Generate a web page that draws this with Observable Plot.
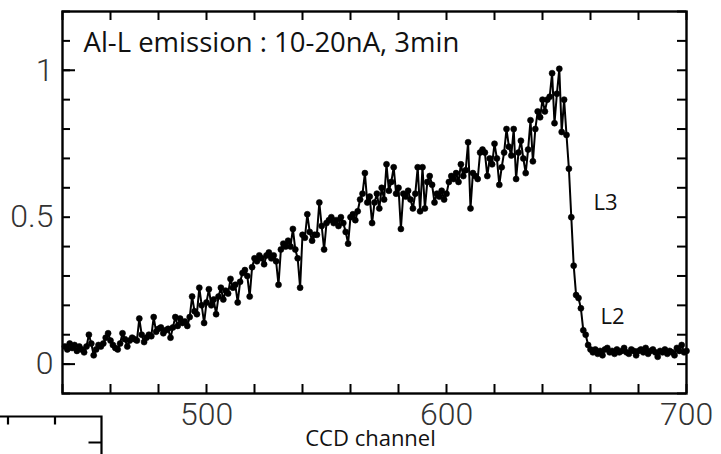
<!DOCTYPE html>
<html>
<head>
<meta charset="utf-8">
<script src="https://cdn.jsdelivr.net/npm/d3@7"></script>
<script src="https://cdn.jsdelivr.net/npm/@observablehq/plot@0.6"></script>
<style>
  html, body { margin: 0; padding: 0; background: #fff; }
  #chart svg { display: block; }
</style>
</head>
<body>
<div id="chart"></div>
<script>
// ---- data ----
const firstChannel = 441;
const intensity = [
  0.06, 0.05, 0.07, 0.055, 0.065, 0.045, 0.06, 0.05, 0.04, 0.06,
  0.10, 0.07, 0.03, 0.05, 0.065, 0.06, 0.07, 0.09, 0.105, 0.08,
  0.065, 0.055, 0.05, 0.07, 0.105, 0.085, 0.06, 0.08, 0.09, 0.085,
  0.08, 0.155, 0.10, 0.075, 0.09, 0.10, 0.095, 0.16, 0.11, 0.12,
  0.125, 0.105, 0.115, 0.12, 0.09, 0.125, 0.16, 0.13, 0.155, 0.14,
  0.145, 0.13, 0.16, 0.23, 0.18, 0.17, 0.26, 0.20, 0.14, 0.21,
  0.255, 0.20, 0.22, 0.17, 0.23, 0.26, 0.22, 0.25, 0.24, 0.29,
  0.26, 0.27, 0.21, 0.28, 0.31, 0.32, 0.30, 0.23, 0.33, 0.36,
  0.35, 0.37, 0.36, 0.34, 0.37, 0.38, 0.36, 0.37, 0.35, 0.27,
  0.39, 0.41, 0.40, 0.42, 0.40, 0.46, 0.39, 0.36, 0.26, 0.44,
  0.43, 0.51, 0.45, 0.42, 0.44, 0.44, 0.55, 0.47, 0.39, 0.48,
  0.49, 0.50, 0.48, 0.49, 0.47, 0.50, 0.48, 0.45, 0.41, 0.50,
  0.51, 0.49, 0.52, 0.56, 0.58, 0.65, 0.55, 0.57, 0.48, 0.55,
  0.58, 0.53, 0.60, 0.56, 0.68, 0.59, 0.62, 0.67, 0.58, 0.60,
  0.46, 0.58, 0.57, 0.59, 0.56, 0.53, 0.58, 0.67, 0.52, 0.67,
  0.53, 0.62, 0.64, 0.61, 0.55, 0.58, 0.57, 0.59, 0.56, 0.58,
  0.62, 0.64, 0.63, 0.65, 0.62, 0.68, 0.64, 0.66, 0.755, 0.53,
  0.65, 0.64, 0.63, 0.72, 0.73, 0.72, 0.64, 0.70, 0.68, 0.75,
  0.70, 0.61, 0.67, 0.72, 0.80, 0.74, 0.71, 0.80, 0.63, 0.72,
  0.76, 0.70, 0.65, 0.73, 0.83, 0.69, 0.80, 0.86, 0.84, 0.90,
  0.86, 0.90, 0.91, 0.99, 0.82, 0.92, 1.005, 0.79, 0.90, 0.78,
  0.665, 0.50, 0.335, 0.235, 0.225, 0.19, 0.115, 0.10, 0.065, 0.05,
  0.04, 0.05, 0.035, 0.045, 0.03, 0.05, 0.055, 0.04, 0.045, 0.035,
  0.05, 0.04, 0.045, 0.055, 0.04, 0.035, 0.05, 0.045, 0.03, 0.045,
  0.05, 0.04, 0.055, 0.035, 0.045, 0.05, 0.04, 0.025, 0.045, 0.04,
  0.05, 0.035, 0.045, 0.04, 0.03, 0.055, 0.045, 0.065, 0.04, 0.045
];
const xDomain = [440, 700];
const yDomain = [-0.1, 1.2];
const xTicks = [440, 460, 480, 500, 520, 540, 560, 580, 600, 620, 640, 660, 680, 700];
const xTickLabels = [500, 600, 700];
const yMinorTicks = [-0.1, 0, 0.1, 0.2, 0.3, 0.4, 0.5, 0.6, 0.7, 0.8, 0.9, 1.0, 1.1, 1.2];
const yMajorTicks = [0, 1];
const yTickLabels = [0, 0.5, 1];
const title = "Al-L emission : 10-20nA, 3min";
const xLabel = "CCD channel";
const annotations = [
  {label: "L3", x: 661.3, y: 0.548},
  {label: "L2", x: 664.2, y: 0.16}
];

const data = intensity.map((v, i) => ({channel: firstChannel + i, value: v}));

// ---- layout ----
const W = 721, H = 454;
const mL = 62, mR = 35, mT = 11, mB = 61;
const innerW = W - mL - mR, innerH = H - mT - mB;
const tickFont = "Roboto, 'Liberation Sans', Arial, sans-serif";
const textFont = "'Open Sans', 'Noto Sans', sans-serif";

const chart = Plot.plot({
  width: W, height: H,
  marginLeft: mL, marginRight: mR, marginTop: mT, marginBottom: mB,
  x: {domain: xDomain, axis: null},
  y: {domain: yDomain, axis: null},
  style: {background: "white", overflow: "visible"},
  marks: [
    // inward ticks
    Plot.ruleX(xTicks, {x: d => d, insetTop: innerH - 9, stroke: "black", strokeWidth: 2}),
    Plot.ruleX(xTicks, {x: d => d, insetBottom: innerH - 9, stroke: "black", strokeWidth: 2}),
    Plot.ruleY(yMinorTicks, {y: d => d, insetRight: innerW - 8, stroke: "black", strokeWidth: 2}),
    Plot.ruleY(yMajorTicks, {y: d => d, insetRight: innerW - 13, stroke: "black", strokeWidth: 2}),
    Plot.ruleY(yMinorTicks, {y: d => d, insetLeft: innerW - 9, stroke: "black", strokeWidth: 2}),
    // data
    Plot.line(data, {x: "channel", y: "value", stroke: "black", strokeWidth: 2}),
    Plot.dot(data, {x: "channel", y: "value", r: 3, fill: "black", stroke: "black", strokeWidth: 0.6}),
    Plot.frame({stroke: "black", strokeWidth: 2.4}),
    // tick labels
    Plot.text(xTickLabels, {x: d => d, frameAnchor: "bottom", dy: 21, lineAnchor: "middle",
      text: d => String(d), fontSize: 32, fontWeight: 300, fontFamily: tickFont, fill: "#333"}),
    Plot.text(yTickLabels, {y: d => d, frameAnchor: "left", dx: -9, textAnchor: "end", lineAnchor: "middle",
      text: d => String(d), fontSize: 32, fontWeight: 300, fontFamily: tickFont, fill: "#333"}),
    // axis label
    Plot.text([xLabel], {frameAnchor: "bottom", dx: -4, dy: 45, lineAnchor: "middle",
      fontSize: 22, fontFamily: textFont, fill: "#111"}),
    // title inside frame
    Plot.text([title], {frameAnchor: "top-left", dx: 21, dy: 32, lineAnchor: "middle", textAnchor: "start",
      fontSize: 27.5, fontFamily: textFont, fill: "#111"}),
    // peak annotations
    Plot.text(annotations, {x: "x", y: "y", text: "label", textAnchor: "start", lineAnchor: "middle",
      fontSize: 22, fontFamily: textFont, fill: "#111"})
  ]
});

document.getElementById("chart").appendChild(chart);

// cropped corner of a neighbouring panel, bottom-left of the picture
const svg = d3.select(chart);
const g = svg.append("g").attr("stroke", "black").attr("stroke-width", 2.2).attr("fill", "none");
g.append("path").attr("d", "M0,416.5H101.5V454");
g.append("path").attr("d", "M8,416.5v8M55,416.5v8M101.5,442.5h-13");
</script>
</body>
</html>
